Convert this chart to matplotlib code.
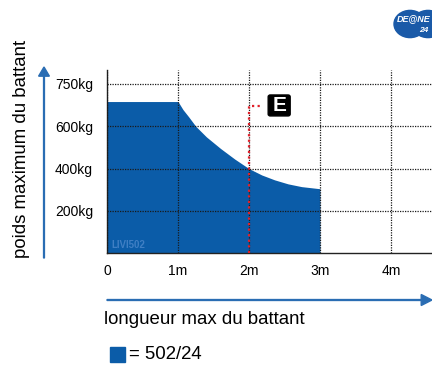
import matplotlib
matplotlib.use("Agg")
import matplotlib.pyplot as plt
from matplotlib.patches import Rectangle, FancyBboxPatch, Circle, FancyArrow

plt.rcParams['font.family'] = ['Liberation Sans', 'DejaVu Sans']

# data (length in m, max weight in kg)
lengths = [0, 1, 1.07, 1.15, 1.25, 1.4, 1.6, 1.8, 2, 2.18, 2.36, 2.55, 2.74, 3]
weights = [717, 717, 679, 645, 600, 550, 495, 445, 400, 370, 347, 328, 315, 305]
x_ticks = [0, 1, 2, 3, 4]
x_labels = ['0', '1m', '2m', '3m', '4m']
y_ticks = [200, 400, 600, 800]
y_labels = ['200kg', '400kg', '600kg', '750kg']
marker_x = [2, 2, 2.18]
marker_y = [0, 696, 696]
legend_text = '= 502/24'
watermark = 'LIVI502'

W, H = 432, 367
blue = '#0b5ca8'
arrow_blue = '#2a6db3'

def fx(px):
    return px / W

def fy(py):
    return 1 - py / H

fig = plt.figure(figsize=(W / 100, H / 100), dpi=100)
ax = fig.add_axes([fx(107), fy(253.3), fx(432 - 107), (253.3 - 70) / H])

ax.fill_between(lengths, weights, 0, color=blue, lw=0, zorder=1)
ax.set_xlim(0, (432 - 107) / 71.0)
ax.set_ylim(0, 866)

ax.set_xticks(x_ticks)
ax.set_xticklabels(x_labels)
ax.set_yticks(y_ticks)
ax.set_yticklabels(y_labels)
ax.tick_params(length=0, labelsize=10, colors='black')
ax.tick_params(axis='x', pad=8)
ax.tick_params(axis='y', pad=10)
ax.grid(True, color='#1a1a1a', ls=(0, (1, 1)), lw=0.9, zorder=2)
ax.set_axisbelow(False)
for s in ['top', 'right']:
    ax.spines[s].set_visible(False)
for s in ['left', 'bottom']:
    ax.spines[s].set_linewidth(1.0)
    ax.spines[s].set_color('#222222')

# red dotted marker + E box
ax.plot(marker_x, marker_y, color='#e0202a', ls=(0, (1, 1.5)), lw=1.6, zorder=3)
ax.add_patch(FancyBboxPatch((2.27, 649), 0.31, 99, boxstyle='round,pad=0,rounding_size=0.03',
                            fc='black', ec='black', zorder=4, mutation_aspect=300))
ax.text(2.425, 697, 'E', color='white', fontsize=15, fontweight='bold',
        ha='center', va='center', zorder=5)
ax.text(0.06, 40, watermark, color='#3f7fc4', fontsize=7, fontweight='bold',
        ha='left', va='center', zorder=3)

# axis arrows
fig.patches.append(FancyArrow(
    fx(44), fy(258), 0, (258 - 67) / H, width=0.002, head_width=0.025,
    head_length=0.025, length_includes_head=True, color=arrow_blue,
    transform=fig.transFigure))
fig.patches.append(FancyArrow(
    fx(107), fy(300), (432 - 107) / W, 0, width=0.0025, head_width=0.03,
    head_length=0.025, length_includes_head=True, color=arrow_blue,
    transform=fig.transFigure))

fig.text(fx(22), fy(149), 'poids maximum du battant', rotation=90,
         fontsize=13.4, ha='center', va='center')
fig.text(fx(104), fy(319), 'longueur max du battant', fontsize=13.4,
         ha='left', va='center')

# legend
fig.patches.append(Rectangle((fx(110), fy(362)), 15 / W, 15 / H, color=blue,
                             transform=fig.transFigure))
fig.text(fx(129), fy(354.5), legend_text, fontsize=13.4, ha='left', va='center')

# logo top right
fig.patches.append(Circle((fx(410), fy(24)), 16 / W, color='#1a5aa8',
                          transform=fig.transFigure))
fig.patches.append(Circle((fx(428), fy(24)), 16 / W, color='#1a5aa8',
                          transform=fig.transFigure))
fig.text(fx(397), fy(19), 'DE@NE', color='white', fontsize=6.5, style='italic',
         fontweight='bold', ha='left', va='center')
fig.text(fx(419), fy(31), '24', color='white', fontsize=6, style='italic',
         fontweight='bold', ha='left', va='center')

fig.savefig('out.png', dpi=100)
